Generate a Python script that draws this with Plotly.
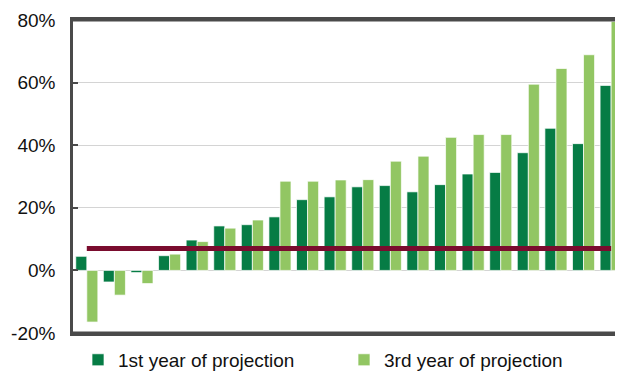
import plotly.graph_objects as go

categories = ["C1", "C2", "C3", "C4", "C5", "C6", "C7", "C8", "C9", "C10",
              "C11", "C12", "C13", "C14", "C15", "C16", "C17", "C18", "C19", "C20"]
first_year = [4.5, -3.7, -0.7, 4.7, 9.7, 14.2, 14.6, 17.1, 22.6, 23.5,
              26.7, 27.1, 25.1, 27.4, 30.8, 31.3, 37.6, 45.4, 40.5, 59.1]
third_year = [-16.5, -7.9, -4.2, 5.2, 9.2, 13.5, 16.1, 28.5, 28.5, 28.9,
              29.0, 34.9, 36.5, 42.5, 43.4, 43.4, 59.5, 64.5, 68.9, 79.5]
benchmark = 7.0
tick_vals = [-20, 0, 20, 40, 60, 80]
tick_text = ["-20%", "0%", "20%", "40%", "60%", "80%"]
y_min, y_max = -20, 80

FONT = "Liberation Sans, Arial, sans-serif"
FRAME = "#4a4a4a"

fig = go.Figure()
fig.add_trace(go.Bar(
    x=categories, y=first_year, name="1st year of projection",
    marker=dict(color="#067c45", line=dict(color="rgba(255,255,255,0.7)", width=1)),
))
fig.add_trace(go.Bar(
    x=categories, y=third_year, name="3rd year of projection",
    marker=dict(color="#92c663", line=dict(color="rgba(255,255,255,0.7)", width=1)),
))
fig.add_trace(go.Scatter(
    x=[categories[0], categories[-1]], y=[benchmark, benchmark],
    mode="lines", line=dict(color="#7a0c2e", width=5),
    showlegend=False, hoverinfo="skip",
))

# frame of the plot area: top and bottom borders as paper-level shapes
fig.add_shape(type="line", xref="paper", yref="paper", x0=0, x1=1, y0=1, y1=1,
              line=dict(color=FRAME, width=3), layer="above")
fig.add_shape(type="line", xref="paper", yref="paper", x0=0, x1=1, y0=0, y1=0,
              line=dict(color=FRAME, width=3), layer="above")

fig.update_layout(
    width=623, height=371,
    margin=dict(l=65, r=0, t=12, b=46, autoexpand=False),
    paper_bgcolor="white", plot_bgcolor="white",
    barmode="group", bargap=0.2, bargroupgap=0,
    font=dict(family=FONT, size=19, color="#111"),
    showlegend=True,
    legend=dict(orientation="h", x=0.009, xanchor="left", y=-0.086, yanchor="middle",
                font=dict(family=FONT, size=19, color="#111"),
                entrywidth=221, entrywidthmode="pixels",
                bgcolor="rgba(0,0,0,0)", traceorder="normal"),
)
fig.update_xaxes(
    type="category", range=[-0.5, 19.72], showticklabels=False, ticks="",
    showgrid=False, showline=True, linecolor=FRAME, linewidth=3, mirror=True,
    zeroline=False, automargin=False,
)
fig.update_yaxes(
    range=[y_min, y_max], tickvals=tick_vals, ticktext=tick_text,
    showgrid=True, gridcolor="#d4d4d4", gridwidth=1,
    zeroline=True, zerolinecolor="#d4d4d4", zerolinewidth=1,
    showline=True, linecolor=FRAME, linewidth=2.5,
    ticks="inside", ticklen=5, tickcolor=FRAME, tickwidth=2,
    ticklabelstandoff=11, automargin=False,
    tickfont=dict(family=FONT, size=19, color="#111"),
)

fig.write_html("out.html")
